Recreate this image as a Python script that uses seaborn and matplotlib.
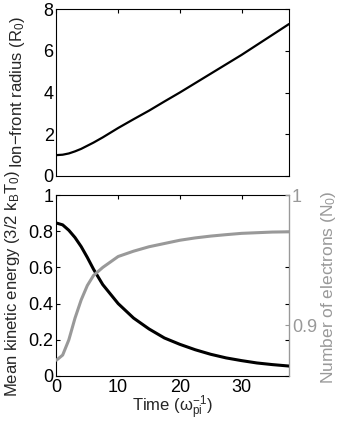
import matplotlib
matplotlib.use('Agg')
import matplotlib.pyplot as plt
import seaborn as sns

# Data
t_radius = [0, 1, 2, 3, 4, 5, 6, 7.5, 10, 12.5, 15, 17.5, 20, 22.5, 25, 27.5, 30, 32.5, 35, 37.7]
radius = [1.0, 1.02, 1.08, 1.18, 1.3, 1.45, 1.6, 1.85, 2.3, 2.72, 3.13, 3.57, 4.0, 4.45,
          4.9, 5.35, 5.8, 6.28, 6.76, 7.28]

t_bottom = [0, 1, 2, 3, 4, 5, 6, 7.5, 10, 12.5, 15, 17.5, 20, 22.5, 25, 27.5, 30, 32.5, 35, 37.7]
energy = [0.845, 0.835, 0.805, 0.765, 0.715, 0.655, 0.59, 0.505, 0.40, 0.32, 0.26, 0.21,
          0.175, 0.145, 0.12, 0.10, 0.085, 0.072, 0.063, 0.055]
electrons = [0.8730, 0.8769, 0.8886, 0.9053, 0.9193, 0.9304, 0.9381, 0.9443, 0.9527, 0.9568,
             0.9602, 0.9627, 0.9652, 0.9670, 0.9684, 0.9695, 0.9705, 0.9710, 0.9715, 0.9717]

top_yticks = [0, 2, 4, 6, 8]
bot_yticks = [0, 0.2, 0.4, 0.6, 0.8, 1]
right_yticks = [0.9, 1]
xticks = [0, 10, 20, 30]

sns.set_style('white')
plt.rcParams['font.family'] = ['Liberation Sans', 'DejaVu Sans']
plt.rcParams['mathtext.fontset'] = 'custom'
plt.rcParams['mathtext.rm'] = 'Liberation Sans'
plt.rcParams['mathtext.it'] = 'Liberation Sans'

grey = '#999999'
W, H = 346, 426
fig = plt.figure(figsize=(W / 100, H / 100), dpi=100)

ax1 = fig.add_axes([56.5 / W, 1 - 176 / H, 232.5 / W, 167 / H])
ax2 = fig.add_axes([56.5 / W, 1 - 376 / H, 232.5 / W, 181 / H])

# top panel: ion-front radius
sns.lineplot(x=t_radius, y=radius, ax=ax1, color='black', linewidth=1.6)
ax1.set_xlim(0, 37.7)
ax1.set_ylim(0, 8)
ax1.set_xticks(xticks)
ax1.set_xticklabels([])
ax1.set_yticks(top_yticks)
ax1.set_yticklabels([str(v) for v in top_yticks])
ax1.set_ylabel('')
fig.text(18 / W, 1 - 92 / H, 'Ion\u2212front radius (R$_0$)', fontsize=12,
         rotation=90, ha='center', va='center')

# bottom panel: mean kinetic energy + number of electrons
sns.lineplot(x=t_bottom, y=energy, ax=ax2, color='black', linewidth=2.2)
ax2.set_xlim(0, 37.7)
ax2.set_ylim(0, 1)
ax2.set_xticks(xticks)
ax2.set_xticklabels([str(v) for v in xticks])
ax2.set_yticks(bot_yticks)
ax2.set_yticklabels(['0', '0.2', '0.4', '0.6', '0.8', '1'])
ax2.set_ylabel('')
fig.text(13 / W, 1 - 283 / H, 'Mean kinetic energy (3/2 k$_B$T$_0$)', fontsize=12,
         rotation=90, ha='center', va='center')
ax2.set_xlabel('Time ($\\omega_{pi}^{-1}$)', fontsize=12)
ax2.xaxis.set_label_coords(0.5, -0.1)

ax3 = ax2.twinx()
sns.lineplot(x=t_bottom, y=electrons, ax=ax3, color=grey, linewidth=2.2)
ax3.set_ylim(0.8608, 1.0)
ax3.set_yticks(right_yticks)
ax3.set_yticklabels(['0.9', '1'])
ax3.tick_params(axis='y', colors=grey, direction='in', length=3, labelsize=13, pad=2)
ax3.set_ylabel('')
fig.text(328 / W, 1 - 287 / H, 'Number of electrons (N$_0$)', fontsize=12.5,
         color=grey, rotation=90, ha='center', va='center')
ax3.spines['right'].set_color(grey)
for s in ['top', 'left', 'bottom']:
    ax3.spines[s].set_visible(False)

for ax in (ax1, ax2):
    ax.tick_params(direction='in', length=3, labelsize=13, top=True, right=True,
                   colors='black', pad=2)
    for s in ax.spines.values():
        s.set_color('black')
        s.set_linewidth(0.8)

fig.savefig('out.png', dpi=100)
